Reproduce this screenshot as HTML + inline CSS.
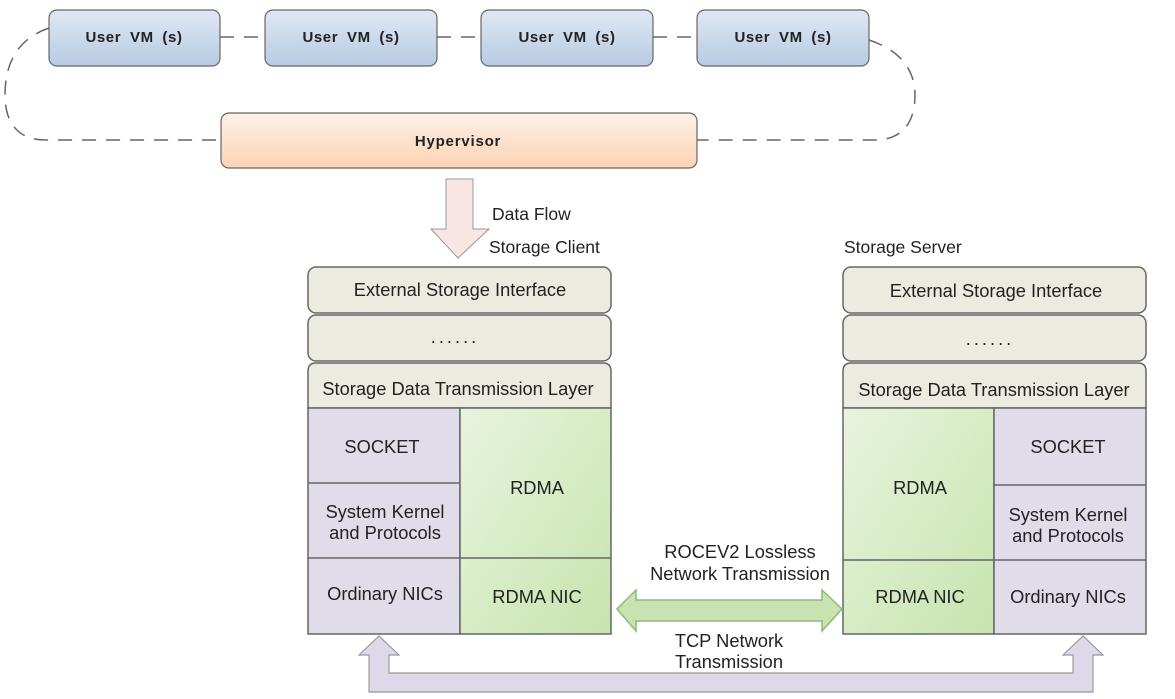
<!DOCTYPE html>
<html><head><meta charset="utf-8"><style>
html,body{margin:0;padding:0;background:#fff;}
svg{display:block;font-family:"Liberation Sans",sans-serif;}
</style></head><body>
<svg width="1175" height="699" viewBox="0 0 1175 699" xmlns="http://www.w3.org/2000/svg">
<defs>
<linearGradient id="vm" x1="0" y1="0" x2="0" y2="1"><stop offset="0" stop-color="#dfe8f3"/><stop offset="1" stop-color="#b7cbe3"/></linearGradient>
<linearGradient id="hv" x1="0" y1="0" x2="0" y2="1"><stop offset="0" stop-color="#fdf1e8"/><stop offset="1" stop-color="#fbd3b4"/></linearGradient>
<linearGradient id="gr" x1="0" y1="0" x2="1" y2="1"><stop offset="0" stop-color="#e8f4de"/><stop offset="1" stop-color="#c6e4ae"/></linearGradient>
</defs>
<g fill="none" stroke="#666" stroke-width="1.5" stroke-dasharray="14,10">
<path d="M49,28 C20,38 5,60 5,95 C5,125 20,140 45,140 L221,140"/>
<path d="M869,40 C900,50 915,70 915,95 C915,125 900,140 875,140 L697,140"/>
<line x1="220" y1="37" x2="265" y2="37"/>
<line x1="437" y1="37" x2="481" y2="37"/>
<line x1="653" y1="37" x2="697" y2="37"/>
</g>
<g stroke="#666" stroke-width="1.2" fill="url(#vm)">
<rect x="49" y="10" width="171" height="56" rx="8"/>
<rect x="265" y="10" width="172" height="56" rx="8"/>
<rect x="481" y="10" width="172" height="56" rx="8"/>
<rect x="697" y="10" width="172" height="56" rx="8"/>
</g>
<g font-weight="bold" font-size="15" fill="#222" text-anchor="middle" letter-spacing="0.6" word-spacing="4">
<text x="134" y="42">User VM (s)</text>
<text x="351" y="42">User VM (s)</text>
<text x="567" y="42">User VM (s)</text>
<text x="783" y="42">User VM (s)</text>
</g>
<rect x="221" y="113" width="476" height="55" rx="8" fill="url(#hv)" stroke="#666" stroke-width="1.2"/>
<text x="458" y="146" font-weight="bold" font-size="15" letter-spacing="0.8" text-anchor="middle" fill="#222">Hypervisor</text>
<path d="M446,179 L473,179 L473,229 L489,229 L458,258 L431,229 L446,229 Z" fill="#f9e5e1" stroke="#999" stroke-width="1"/>
<g font-size="17.5" fill="#222">
<text x="492" y="220">Data Flow</text>
<text x="489" y="253">Storage Client</text>
<text x="844" y="253">Storage Server</text>
</g>
<g stroke="#666" stroke-width="1.5">
<rect x="308" y="267" width="303" height="46" rx="8" fill="#ecebdf"/>
<rect x="308" y="315" width="303" height="46" rx="8" fill="#ecebdf"/>
<path d="M308,408 L308,371 Q308,363 316,363 L603,363 Q611,363 611,371 L611,408 Z" fill="#ecebdf"/>
<rect x="308" y="408" width="152" height="226" fill="#e0dcea"/>
<rect x="460" y="408" width="151" height="226" fill="url(#gr)"/>
<line x1="308" y1="483" x2="460" y2="483"/>
<line x1="308" y1="558" x2="611" y2="558"/>
<rect x="843" y="267" width="303" height="46" rx="8" fill="#ecebdf"/>
<rect x="843" y="315" width="303" height="46" rx="8" fill="#ecebdf"/>
<path d="M843,408 L843,371 Q843,363 851,363 L1138,363 Q1146,363 1146,371 L1146,408 Z" fill="#ecebdf"/>
<rect x="843" y="408" width="151" height="226" fill="url(#gr)"/>
<rect x="994" y="408" width="152" height="226" fill="#e0dcea"/>
<line x1="994" y1="485" x2="1146" y2="485"/>
<line x1="843" y1="560" x2="1146" y2="560"/>
</g>
<g font-size="18.3" fill="#222" text-anchor="middle">
<text x="460" y="296">External Storage Interface</text>
<text x="455" y="343" letter-spacing="3">......</text>
<text x="458" y="395">Storage Data Transmission Layer</text>
<text x="382" y="453">SOCKET</text>
<text x="385" y="518">System Kernel</text>
<text x="385" y="539">and Protocols</text>
<text x="385" y="600">Ordinary NICs</text>
<text x="537" y="494">RDMA</text>
<text x="537" y="603">RDMA NIC</text>
<text x="996" y="297">External Storage Interface</text>
<text x="990" y="345" letter-spacing="3">......</text>
<text x="994" y="396">Storage Data Transmission Layer</text>
<text x="1068" y="453">SOCKET</text>
<text x="1068" y="521">System Kernel</text>
<text x="1068" y="542">and Protocols</text>
<text x="1068" y="603">Ordinary NICs</text>
<text x="920" y="494">RDMA</text>
<text x="920" y="603">RDMA NIC</text>
<text x="740" y="558">ROCEV2 Lossless</text>
<text x="740" y="580">Network Transmission</text>
<text x="729" y="647">TCP Network</text>
<text x="729" y="668">Transmission</text>
</g>
<path d="M617,609 L636,590 L636,600 L822,600 L822,590 L842,609 L822,631 L822,621 L636,621 L636,631 Z" fill="#c9e3b0" stroke="#8fb87a" stroke-width="1.5"/>
<path d="M379,636 L399,655 L389,655 L389,673 L1073,673 L1073,655 L1063,655 L1083,636 L1103,655 L1093,655 L1093,692 L369,692 L369,655 L359,655 Z" fill="#ddd8ea" stroke="#999" stroke-width="1.2"/>
</svg>
</body></html>
